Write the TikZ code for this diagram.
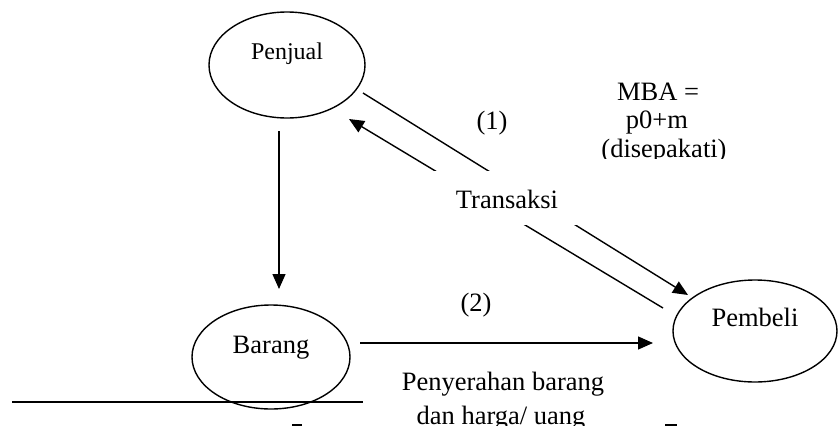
\documentclass[tikz,border=0pt]{standalone}
\usepackage{fontspec}
\setmainfont{Liberation Serif}
\usetikzlibrary{shapes.geometric,arrows.meta}
\begin{document}
\begin{tikzpicture}[x=1pt,y=-1pt,
  ent/.style={ellipse,draw,line width=1.4pt,inner sep=0pt},
  lbl/.style={anchor=base,inner sep=0pt,font=\fontsize{26.5}{28}\selectfont},
  conn/.style={line width=1.4pt},
  arr/.style={line width=1.4pt,-{Triangle[length=15pt,width=13pt]}}]
\clip (0,0) rectangle (839,426);
% entities
\node[ent,minimum width=156pt,minimum height=106pt] (penjual) at (287,65) {};
\node[ent,minimum width=158pt,minimum height=104pt] (barang) at (271,357) {};
\node[ent,minimum width=164pt,minimum height=102pt] (pembeli) at (755,331) {};
\node[lbl,font=\fontsize{24}{26}\selectfont] (tpenjual) at (287,59) {Penjual};
\node[lbl] (tbarang) at (271,353) {Barang};
\node[lbl] (tpembeli) at (755,326) {Pembeli};
% connector end points
\coordinate (vA) at (279,131);
\coordinate (vB) at (279,289);
\coordinate (hA) at (360,343);
\coordinate (hB) at (653,343);
\coordinate (dA1) at (663,308);
\coordinate (dA2) at (349,119);
\coordinate (dB1) at (363,93);
\coordinate (dB2) at (688,295);
\coordinate (base1) at (12,402);
\coordinate (base2) at (363,402);
% connectors
\draw[arr] (vA) -- (vB);
\draw[arr] (hA) -- (hB);
\draw[arr] (dA1) -- (dA2);
\draw[arr] (dB1) -- (dB2);
\draw[conn] (base1) -- (base2);
% small marks at the bottom
\coordinate (m1a) at (292,425);
\coordinate (m1b) at (302,425);
\coordinate (m2a) at (665,425);
\coordinate (m2b) at (677,425);
\draw[line width=1.6pt] (m1a) -- (m1b);
\draw[line width=1.6pt] (m2a) -- (m2b);
% Transaksi box (white, cuts the diagonal lines)
\fill[white] (410,171) rectangle (610,225);
\node[lbl] (ttrans) at (507,208) {Transaksi};
% labels
\node[lbl] (t1) at (492,129) {(1)};
\node[lbl] (t2) at (476,311) {(2)};
\begin{scope}
\clip (560,60) rectangle (780,158);
\node[lbl] (mba1) at (658,100) {MBA =};
\node[lbl] (mba2) at (657,128) {p0+m};
\node[lbl] (mba3) at (664,157) {(disepakati)};
\end{scope}
\node[lbl] (pb1) at (503,390) {Penyerahan barang};
\node[lbl] (pb2) at (501,424) {dan harga/ uang};
\end{tikzpicture}
\end{document}
